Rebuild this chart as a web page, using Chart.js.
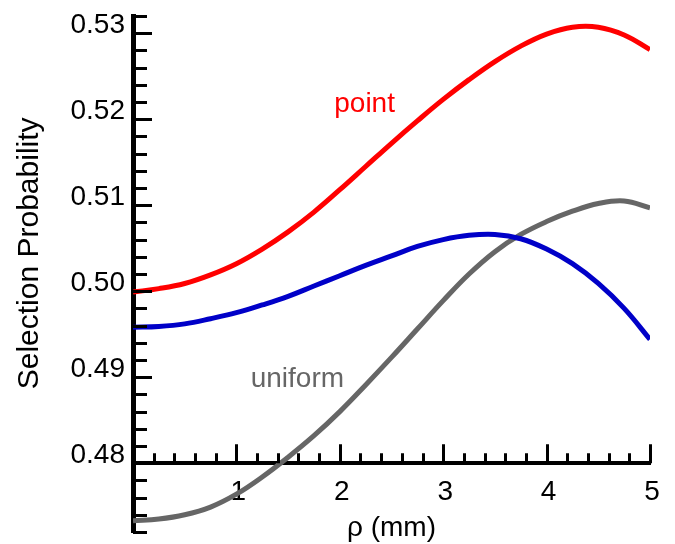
<!DOCTYPE html>
<html>
<head>
<meta charset="utf-8">
<script src="https://cdn.jsdelivr.net/npm/chart.js@4.4.1/dist/chart.umd.min.js"></script>
<style>
  html, body { margin: 0; padding: 0; background: #fff; }
  #wrap { width: 675px; height: 544px; }
</style>
</head>
<body>
<div id="wrap"><canvas id="probChart" width="675" height="544"></canvas></div>
<script>
// rho in mm
var rho = [0, 0.25, 0.5, 0.75, 1, 1.25, 1.5, 1.75, 2, 2.25, 2.5, 2.75, 3, 3.25, 3.5, 3.75, 4, 4.25, 4.5, 4.75, 5];
var pointProb = [0.4999, 0.5003, 0.5009, 0.5019, 0.5032, 0.5049, 0.5069, 0.5092, 0.5118, 0.5145, 0.5172, 0.5198, 0.5223, 0.5246, 0.5267, 0.5285, 0.5299, 0.5307, 0.5307, 0.5298, 0.5281];
var blueProb = [0.4958, 0.4959, 0.4962, 0.4968, 0.4975, 0.4984, 0.4994, 0.5006, 0.5018, 0.5030, 0.5041, 0.5052, 0.5060, 0.5065, 0.5066, 0.5061, 0.5049, 0.5032, 0.5009, 0.4980, 0.4944];
var uniformProb = [0.4733, 0.4735, 0.4740, 0.4749, 0.4764, 0.4784, 0.4807, 0.4832, 0.4860, 0.4891, 0.4923, 0.4956, 0.4989, 0.5020, 0.5046, 0.5066, 0.5081, 0.5093, 0.5102, 0.5105, 0.5097];
var xTickLabels = [1, 2, 3, 4, 5];
var yTickLabels = [0.48, 0.49, 0.50, 0.51, 0.52, 0.53];

var fontFamily = '"Liberation Sans", Arial, Helvetica, sans-serif';

// text labels next to the curves (data coords)
var curveLabels = [
  { text: 'point', x: 2.24, y: 0.5217, color: '#ff0000' },
  { text: 'uniform', x: 1.59, y: 0.4898, color: '#666666' }
];
var yTitle = 'Selection Probability';

function toPoints(vals) {
  return rho.map(function (r, i) { return { x: r, y: vals[i] }; });
}

// ticks point inward like the original figure
var innerTicks = {
  id: 'innerTicks',
  afterDraw: function (chart) {
    var ctx = chart.ctx;
    var xs = chart.scales.x, ys = chart.scales.y;
    var x0 = xs.getPixelForValue(0);
    var y0 = ys.getPixelForValue(0.48);
    ctx.save();
    ctx.strokeStyle = '#000';
    ctx.lineWidth = 3;
    ctx.beginPath();
    for (var i = 0; i <= 30; i++) {
      var v = ys.min + i * 0.002;
      var py = Math.round(ys.getPixelForValue(v)) + 0.5;
      var major = Math.abs(v * 100 - Math.round(v * 100)) < 1e-6;
      ctx.moveTo(x0, py);
      ctx.lineTo(x0 + (major ? 19 : 14), py);
    }
    for (var j = 1; j <= 25; j++) {
      var px = Math.round(xs.getPixelForValue(j * 0.2)) + 0.5;
      ctx.moveTo(px, y0);
      ctx.lineTo(px, y0 - (j % 5 === 0 ? 19 : 10));
    }
    ctx.stroke();
    ctx.restore();
  }
};

var curveText = {
  id: 'curveText',
  afterDatasetsDraw: function (chart) {
    var ctx = chart.ctx;
    ctx.save();
    ctx.font = '28px ' + fontFamily;
    ctx.textAlign = 'center';
    ctx.textBaseline = 'middle';
    curveLabels.forEach(function (l) {
      ctx.fillStyle = l.color;
      ctx.fillText(l.text, chart.scales.x.getPixelForValue(l.x), chart.scales.y.getPixelForValue(l.y));
    });
    // y axis title, sits a bit above the axis middle in the original
    ctx.fillStyle = '#000';
    ctx.font = '30px ' + fontFamily;
    ctx.translate(30, chart.scales.y.getPixelForValue(0.5044));
    ctx.rotate(-Math.PI / 2);
    ctx.fillText(yTitle, 0, 0);
    ctx.restore();
  }
};

var ctx = document.getElementById('probChart');
var myChart = new Chart(ctx, {
  type: 'line',
  data: {
    datasets: [
      {
        label: 'point',
        data: toPoints(pointProb),
        borderColor: '#ff0000',
        borderWidth: 5,
        pointRadius: 0,
        tension: 0.4
      },
      {
        label: 'blue',
        data: toPoints(blueProb),
        borderColor: '#0000c8',
        borderWidth: 5,
        pointRadius: 0,
        tension: 0.4
      },
      {
        label: 'uniform',
        data: toPoints(uniformProb),
        borderColor: '#666666',
        borderWidth: 5,
        pointRadius: 0,
        tension: 0.4
      }
    ]
  },
  options: {
    responsive: false,
    animation: false,
    devicePixelRatio: 1,
    layout: { padding: { left: 8, top: 16, right: 25, bottom: 12 } },
    plugins: {
      legend: { display: false },
      tooltip: { enabled: false }
    },
    scales: {
      x: {
        type: 'linear',
        min: 0,
        max: 5,
        position: { y: 0.48 },
        grid: { display: false, drawTicks: false },
        border: { display: true, color: '#000', width: 4 },
        afterBuildTicks: function (s) { s.ticks = xTickLabels.map(function (v) { return { value: v }; }); },
        ticks: {
          color: '#000',
          font: { family: fontFamily, size: 28 },
          padding: 12,
          labelOffset: 2,
          maxRotation: 0,
          callback: function (v) { return String(v); }
        },
        title: {
          display: true,
          text: 'ρ (mm)',
          color: '#000',
          font: { family: fontFamily, size: 28 },
          padding: { top: -9, bottom: 0 }
        }
      },
      y: {
        type: 'linear',
        min: 0.472,
        max: 0.532,
        position: 'left',
        grid: { display: false, drawTicks: false },
        border: { display: true, color: '#000', width: 5 },
        afterBuildTicks: function (s) { s.ticks = yTickLabels.map(function (v) { return { value: v }; }); },
        afterFit: function (s) {
          s.width = 125;
          s.paddingTop = 0;
          s.paddingBottom = 0;
        },
        ticks: {
          color: '#000',
          font: { family: fontFamily, size: 28 },
          padding: 8,
          labelOffset: -8,
          callback: function (v) { return v.toFixed(2); }
        },
        title: { display: false }
      }
    }
  },
  plugins: [innerTicks, curveText]
});
</script>
</body>
</html>
